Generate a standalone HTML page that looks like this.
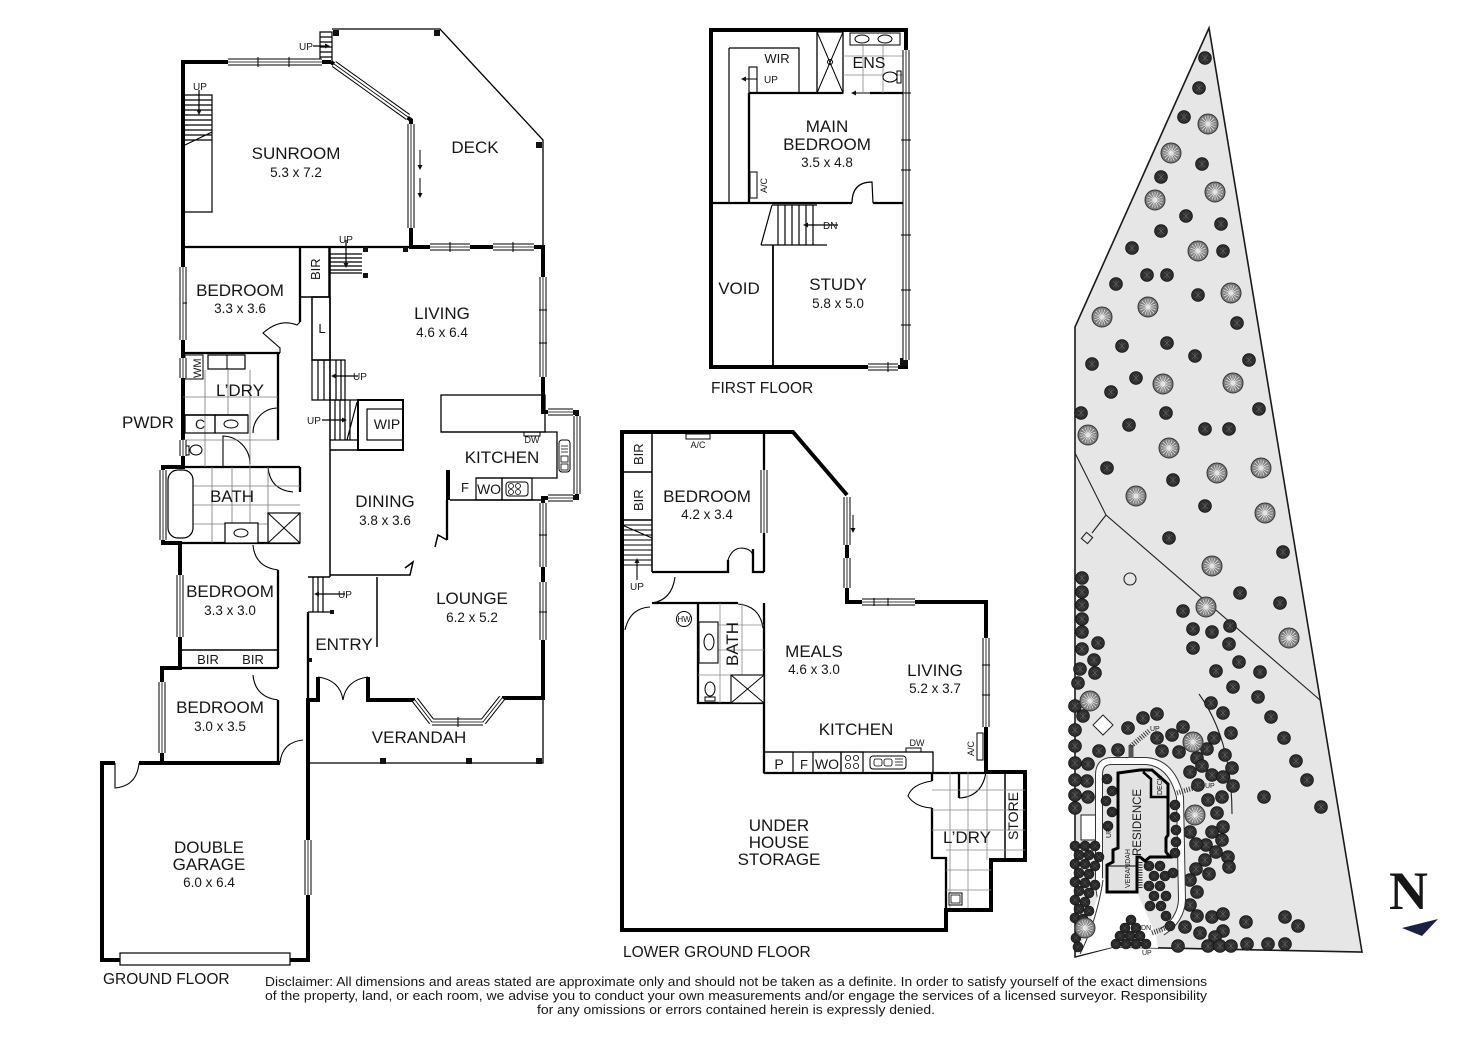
<!DOCTYPE html>
<html><head><meta charset="utf-8"><style>
html,body{margin:0;padding:0;background:#fff}
svg{display:block}
text{font-family:"Liberation Sans",Arial,sans-serif;fill:#161616}
.t{font-size:17px;text-anchor:middle}
.d{font-size:13.5px;text-anchor:middle}
.s{font-size:10px}
.m{text-anchor:middle}
</style></head><body>
<svg width="1472" height="1040" viewBox="0 0 1472 1040" xmlns="http://www.w3.org/2000/svg">
<defs>
<g id="dt"><circle r="6.4" fill="#2f2f2f" stroke="#111" stroke-width=".8"/><path d="M-3,-3L3,3M-3,3L3,-3M0,-4V4" stroke="#5e5e5e" stroke-width=".6"/></g>
<g id="ds"><circle r="5" fill="#2a2a2a" stroke="#111" stroke-width=".6"/><path d="M-2,-2L2,2M-2,2L2,-2" stroke="#555" stroke-width=".5"/></g>
<g id="bt"><circle r="10" fill="#7c7c7c" stroke="#333" stroke-width="1"/><path d="M0,-8V8M-8,0H8M-6,-6L6,6M-6,6L6,-6M-3,-7.5L3,7.5M-7.5,-3L7.5,3M3,-7.5L-3,7.5M7.5,-3L-7.5,3" stroke="#e4e4e4" stroke-width=".8"/></g>
<path id="win" d="M228,62H322 M334,64L408,117 M411,124V228 M430,247H470 M493,247H534 M543,277V377 M548,412H573 M577,416V494 M548,498H573 M543,503V567 M543,582V640 M502,698L483,722 M483,722H432 M432,722L415,700 M183,267V340 M183,358V378 M183,440V456 M163,470V540 M180,575V637 M162,682V753 M308,840V895 M906,50V360 M868,367H898 M847,497V545 M847,558V588 M862,602H915 M986,638V727 M764,470V533"/>
</defs>

<!-- ================= GROUND FLOOR ================= -->
<g fill="none" stroke="#000" stroke-linejoin="miter">
<path stroke-width="1.3" d="M332,29 L440,29 L543,140 L543,247 M308,763 L543,763 L543,698"/>
<path stroke-width="4" d="M331,62 L183,62 L183,467 L163,467 L163,543 L180,543 L180,668 L162,668 L162,763 M331,62 L411,120 L411,247 L543,247 L543,412 L577,412 L577,498 L543,498 L543,698 L502,698 M415,700 L368,700 L368,677 M318,677 L318,700 L308,700 L308,960 L102,960 L102,763 L115,763 M139,763 L280,763"/>
<path stroke-width="2.3" d="M183,247H411 M300,247V322 M183,353H280 M278,353V440 M183,467H300 M300,467V492 M163,543H300 M278,570V668 M180,668H278 M278,700V763 M308,612V700 M447,500V540"/>
<path stroke-width="1.5" d="M183,415H248 M180,650H278 M330,247V577 M330,575H410L413,562L405,568 M447,540L438,535L435,547 M377,577V647 M330,450H403 M308,577H330 M450,500H545"/>
<path stroke-width="1.1" d="M300,322 L297,325 Q280,318 263,333 L280,348 L280,353 M223,466V436 A28,28 0 0 1 250,464 M253,433 A25,25 0 0 1 277,408 M268,467 Q270,490 293,492 M253,545 Q255,567 278,570 M253,675 Q255,697 278,700 M115,763V788 Q137,786 139,763 M280,763 Q282,742 303,740 M318,677 Q340,680 343,700 M368,677 Q346,680 343,700"/>
<path stroke-width="1.2" d="M185,95H212V212H185 M185,100H212 M185,105H212 M185,110H212 M185,115H212 M185,120H212 M185,125H212 M185,130H212 M185,135H212 M185,140H212 M185,145L212,132 M199,90V112"/>
<path stroke-width="1.2" d="M320,32H332V62H320Z M320,37H332 M320,42H332 M320,47H332 M320,52H332 M320,57H332 M313,46H328"/>
<path stroke-width="1.2" d="M330,273H362 M330,254H362 M330,258H362 M330,262H362 M330,266H362 M330,270H362 M346,240V266"/>
<rect x="300" y="247" width="29" height="50" stroke-width="1.5"/>
<rect x="312" y="297" width="18" height="63" stroke-width="1.5"/>
<path stroke-width="1.2" d="M312,360H345V400H312Z M318,360V400 M324,360V400 M330,360V400 M336,360V400 M341,360V400 M358,376H333"/>
<path stroke-width="1.2" d="M330,400H358V440H330 M335,400V440 M340,400V440 M345,400V440 M350,400V440 M357,402L347,440 M322,420H345"/>
<rect x="358" y="400" width="45" height="50" stroke-width="2"/>
<rect x="367" y="409" width="36" height="31" stroke-width="1.2"/>
<rect x="208" y="355" width="37" height="14" stroke-width="1.2"/><path stroke-width="1" d="M227,355V369"/>
<rect x="185" y="355" width="18" height="24" stroke-width="1"/>
<path stroke="#777" stroke-width=".8" d="M205,370V467 M228,370V415 M250,370V467 M183,397H278 M183,440H278 M212,467V543 M232,467V543 M250,467V543 M268,467V513 M193,486H300 M193,505H300 M193,524H268"/>
<rect x="185" y="415" width="30" height="18" stroke-width="1.2"/>
<rect x="215" y="415" width="33" height="18" stroke-width="1.2"/>
<ellipse cx="231" cy="424" rx="7" ry="4" stroke-width="1"/>
<ellipse cx="196" cy="450" rx="6" ry="5" stroke-width="1"/><rect x="185" y="446" width="4" height="9" stroke-width="1"/>
<rect x="168" y="470" width="25" height="68" rx="10" fill="#fff" stroke-width="1.2"/>
<rect x="225" y="523" width="33" height="20" fill="#fff" stroke-width="1.2"/><ellipse cx="241" cy="533" rx="7" ry="4" stroke-width="1"/>
<rect x="268" y="513" width="32" height="30" fill="#fff" stroke-width="1.2"/><path stroke-width="1" d="M268,513L300,543M300,513L268,543"/>
<rect x="441" y="395" width="104" height="37" stroke-width="1.3"/>
<path stroke-width="1.3" d="M441,432H557V478H476"/>
<rect x="476" y="478" width="26" height="22" stroke-width="1.2"/>
<rect x="502" y="478" width="30" height="22" stroke-width="1.2"/>
<rect x="506" y="482" width="22" height="14" rx="3" stroke-width="1"/>
<circle cx="511" cy="486" r="2.5" stroke-width=".8"/><circle cx="518" cy="486" r="2.5" stroke-width=".8"/><circle cx="511" cy="492" r="2.5" stroke-width=".8"/><circle cx="518" cy="492" r="2.5" stroke-width=".8"/>
<rect x="524" y="432" width="16" height="4" stroke-width="1"/>
<rect x="559" y="440" width="11" height="32" rx="3" stroke-width="1"/><path stroke-width=".8" d="M561,446H568M561,449H568M561,452H568"/><rect x="561" y="456" width="7" height="6" stroke-width=".8"/><rect x="561" y="464" width="7" height="6" stroke-width=".8"/>
<path stroke-width="1.2" d="M313,577V612 M318,577V612 M323,577V612 M308,612H330 M345,594H316"/>
<rect x="120" y="953" width="170" height="12" fill="#fff" stroke-width="1.2"/>
</g>
<rect x="446" y="470" width="4" height="30" fill="#000"/>
<g fill="#111">
<rect x="333" y="30" width="6" height="6"/><rect x="434" y="30" width="6" height="6"/><rect x="536" y="142" width="6" height="6"/>
<rect x="363" y="247" width="5" height="5"/><rect x="363" y="273" width="5" height="5"/><rect x="403" y="247" width="5" height="5"/>
<rect x="380" y="758" width="6" height="6"/><rect x="466" y="758" width="6" height="6"/><rect x="536" y="758" width="6" height="6"/>
<rect x="330" y="610" width="4" height="4"/><rect x="308" y="658" width="4" height="4"/>
<rect x="573" y="410" width="5" height="5"/><rect x="573" y="495" width="5" height="5"/>
<path d="M199,115l-2.5,-5h5z M330,46l-5,-2.5v5z M346,268l-2.5,-5h5z M331,376l5,-2.5v5z M347,420l-5,-2.5v5z M314,594l5,-2.5v5z M420,170l-2.5,-5h5z M420,198l-2.5,-5h5z"/>
</g>
<path stroke="#000" stroke-width="1" d="M420,150V168 M420,178V196" fill="none"/>

<!-- ================= FIRST FLOOR ================= -->
<g fill="none" stroke="#000">
<rect x="711" y="30" width="195" height="337" stroke-width="4"/>
<path stroke-width="2.3" d="M711,203H852 M873,203H906 M749,93V203 M749,93H843 M870,93H903"/>
<path stroke-width="1.2" d="M729,48V203 M729,48H799V93 M852,203 Q852,182 872,182 L873,203"/>
<rect x="749" y="67" width="8" height="26" stroke-width="1.1"/>
<path stroke-width="1" d="M757,79H743 M870,93H852"/>
<rect x="817" y="32" width="26" height="61" stroke-width="1.3"/>
<path stroke-width="1" d="M817,32L843,93M843,32L817,93"/><circle cx="830" cy="62" r="2.5" stroke-width="1"/>
<path stroke="#888" stroke-width=".8" d="M863,45V93 M883,45V93 M843,56H903 M843,75H903"/>
<rect x="850" y="33" width="50" height="12" fill="#fff" stroke-width="1"/>
<ellipse cx="862" cy="39" rx="7" ry="4" stroke-width="1"/><ellipse cx="885" cy="39" rx="7" ry="4" stroke-width="1"/>
<ellipse cx="890" cy="77" rx="7" ry="5" fill="#fff" stroke-width="1"/><rect x="897" y="71" width="4" height="12" stroke-width="1"/>
<rect x="750" y="172" width="7" height="26" stroke-width="1"/>
<path stroke-width="1.2" d="M772,205L761,245 M761,245H827 M772,205H817 M778,205V245 M785,205V245 M792,205V245 M799,205V245 M806,205V245 M813,205V245 M838,225H805"/>
<path stroke-width="1.8" d="M773,245V367"/>
</g>
<g fill="#111"><path d="M741,79l5,-2.5v5z M851,93l5,-2.5v5z M803,225l5,-2.5v5z"/>
<rect x="903" y="205" width="6" height="12"/><rect x="903" y="255" width="6" height="8"/><rect x="900" y="358" width="8" height="8"/></g>

<!-- ================= LOWER GROUND FLOOR ================= -->
<g fill="none" stroke="#000">
<path stroke-width="4" d="M847,495 L793,432 L622,432 L622,930 L946,930 L946,910 L991,910 L991,860 L1025,860 L1025,772 L986,772 L986,727 M986,638 L986,602 L847,602 L847,588 M847,558 L847,545"/>
<path stroke-width="2.3" d="M764,432V572 M652,572H728V560 M753,549V572H764 M652,603H738 M764,603V773 M698,603V703H764 M764,773H986 M932,773V781 M932,808V858H946V910 M959,772V798"/>
<path stroke-width="1.5" d="M652,432V572 M622,472H652 M622,520H652 M1005,772V860"/>
<path stroke-width="1.1" d="M728,560 Q732,548 742,548 Q752,549 753,556 M675,577 Q672,600 652,603 M650,607 Q630,608 625,630 M738,604 Q760,606 763,628 M932,781 Q912,784 908,796 Q915,807 932,808 M959,798 Q982,797 986,772"/>
<rect x="686" y="434" width="24" height="5" stroke-width="1"/>
<path stroke-width="1.1" d="M622,525H652 M622,530H652 M622,535H652 M622,540H652 M622,545H652 M622,550H652 M622,555H652 M622,560H652 M622,565H652 M622,525L652,538 M637,580V560"/>
<path stroke="#888" stroke-width=".8" d="M720,603V703 M742,603V675 M698,625H764 M698,650H764 M698,675H731 M950,772V908 M968,772V908 M987,775V860 M932,790H1025 M932,810H1025 M932,830H1025 M946,850H1025 M946,870H991 M946,890H991"/>
<rect x="699" y="622" width="19" height="41" fill="#fff" stroke-width="1.1"/><ellipse cx="709" cy="642" rx="5" ry="8" stroke-width="1"/>
<ellipse cx="710" cy="689" rx="5" ry="7" fill="#fff" stroke-width="1"/><rect x="705" y="697" width="10" height="4" stroke-width="1"/>
<rect x="731" y="675" width="33" height="28" fill="#fff" stroke-width="1.1"/><path stroke-width="1" d="M731,675L764,703M764,675L731,703"/>
<circle cx="684" cy="619" r="7.5" stroke-width="1"/>
<rect x="764" y="752" width="169" height="21" stroke-width="1.3"/>
<rect x="764" y="752" width="29" height="21" stroke-width="1.2"/>
<rect x="813" y="752" width="28" height="21" stroke-width="1.2"/>
<rect x="841" y="752" width="22" height="21" stroke-width="1.2"/>
<circle cx="848" cy="758" r="2.6" stroke-width=".8"/><circle cx="856" cy="758" r="2.6" stroke-width=".8"/><circle cx="848" cy="766" r="2.6" stroke-width=".8"/><circle cx="856" cy="766" r="2.6" stroke-width=".8"/>
<rect x="870" y="756" width="36" height="13" rx="3" stroke-width="1"/>
<rect x="874" y="759" width="8" height="7" rx="2" stroke-width=".8"/><rect x="884" y="759" width="8" height="7" rx="2" stroke-width=".8"/><path stroke-width=".8" d="M895,759H903M895,762H903M895,765H903"/>
<rect x="906" y="748" width="15" height="4" stroke-width="1"/>
<rect x="977" y="733" width="6" height="27" stroke-width="1"/>
<rect x="949" y="893" width="13" height="12" fill="#fff" stroke-width="1"/><rect x="951" y="895" width="9" height="8" stroke-width=".8"/>
</g>
<g fill="#111"><path d="M637,558l-2.5,5h5z M853,533l-2.5,-5h5z"/></g>
<path d="M853,515V530" stroke="#000" stroke-width="1"/>

<g fill="none" stroke-linecap="butt">
<use href="#win" stroke="#000" stroke-width="7"/>
<use href="#win" stroke="#fff" stroke-width="5"/>
<use href="#win" stroke="#000" stroke-width=".8"/>
</g>
<path fill="none" stroke="#000" stroke-width="1" d="M258,57V67 M289,57V67 M450,242V252 M513,242V252 M539,310H547 M539,343H547 M539,535H547 M539,612H547 M458,717V727 M183,303H187 M901,93H911 M901,140H911 M901,170H911 M901,235H911 M901,290H911 M901,325H911 M888,362V372 M874,598V606 M888,598V606 M982,665H990 M982,695H990"/>

<!-- ================= SITE PLAN ================= -->
<polygon points="1209,28 1362,952 1113,947 1075,957 1075,327" fill="#e6e6e6" stroke="#1a1a1a" stroke-width="1.6" stroke-linejoin="miter"/>
<g fill="none" stroke="#222" stroke-width="1.1">
<path d="M1075,453 L1106,515 L1320,700 M1106,515 L1092,533"/>
<rect x="1083" y="534" width="8" height="8" transform="rotate(40 1087 538)" fill="#e6e6e6"/>
<circle cx="1130" cy="579" r="6"/>
<path d="M1199,694 Q1232,740 1232,814"/>
</g>
<polygon points="1103,715 1113,725 1103,735 1093,725" fill="#fff" stroke="#222" stroke-width="1"/>
<rect x="1081" y="815" width="21" height="25" fill="#fff" stroke="#222" stroke-width="1"/>

<g>
<use href="#dt" x="1205" y="58"/><use href="#dt" x="1199" y="88"/><use href="#dt" x="1184" y="117"/><use href="#dt" x="1202" y="164"/><use href="#dt" x="1161" y="177"/><use href="#dt" x="1186" y="216"/><use href="#dt" x="1221" y="224"/><use href="#dt" x="1161" y="231"/><use href="#dt" x="1132" y="248"/><use href="#dt" x="1223" y="251"/><use href="#dt" x="1147" y="275"/><use href="#dt" x="1167" y="275"/><use href="#dt" x="1116" y="284"/><use href="#dt" x="1198" y="295"/><use href="#dt" x="1237" y="323"/><use href="#dt" x="1122" y="346"/><use href="#dt" x="1167" y="343"/><use href="#dt" x="1195" y="356"/><use href="#dt" x="1249" y="360"/><use href="#dt" x="1092" y="364"/><use href="#dt" x="1136" y="378"/><use href="#dt" x="1111" y="392"/><use href="#dt" x="1081" y="413"/><use href="#dt" x="1166" y="413"/><use href="#dt" x="1259" y="409"/><use href="#dt" x="1129" y="425"/><use href="#dt" x="1205" y="429"/><use href="#dt" x="1229" y="429"/><use href="#dt" x="1107" y="468"/><use href="#dt" x="1173" y="480"/>
<use href="#dt" x="1205" y="506"/><use href="#dt" x="1169" y="538"/><use href="#dt" x="1283" y="552"/><use href="#dt" x="1240" y="593"/><use href="#dt" x="1280" y="603"/><use href="#dt" x="1183" y="611"/><use href="#dt" x="1193" y="629"/><use href="#dt" x="1212" y="632"/><use href="#dt" x="1230" y="626"/><use href="#dt" x="1193" y="648"/><use href="#dt" x="1229" y="644"/><use href="#dt" x="1239" y="662"/><use href="#dt" x="1216" y="671"/><use href="#dt" x="1260" y="672"/><use href="#dt" x="1233" y="687"/><use href="#dt" x="1258" y="697"/><use href="#dt" x="1211" y="703"/><use href="#dt" x="1223" y="713"/><use href="#dt" x="1271" y="717"/><use href="#dt" x="1157" y="714"/><use href="#dt" x="1143" y="718"/>
<use href="#dt" x="1082" y="578"/><use href="#dt" x="1082" y="592"/><use href="#dt" x="1082" y="605"/><use href="#dt" x="1082" y="619"/><use href="#dt" x="1082" y="632"/><use href="#dt" x="1082" y="649"/><use href="#dt" x="1098" y="643"/><use href="#dt" x="1094" y="660"/><use href="#dt" x="1095" y="673"/><use href="#dt" x="1080" y="669"/><use href="#dt" x="1078" y="683"/><use href="#dt" x="1075" y="706"/><use href="#dt" x="1083" y="716"/>
<use href="#dt" x="1231" y="733"/><use href="#dt" x="1284" y="738"/><use href="#dt" x="1225" y="755"/><use href="#dt" x="1232" y="768"/><use href="#dt" x="1296" y="761"/><use href="#dt" x="1307" y="780"/><use href="#dt" x="1233" y="786"/><use href="#dt" x="1264" y="797"/><use href="#dt" x="1321" y="807"/><use href="#dt" x="1222" y="797"/><use href="#dt" x="1217" y="813"/><use href="#dt" x="1228" y="857"/><use href="#dt" x="1229" y="867"/><use href="#dt" x="1212" y="917"/><use href="#dt" x="1223" y="914"/><use href="#dt" x="1246" y="922"/><use href="#dt" x="1285" y="917"/><use href="#dt" x="1298" y="926"/><use href="#dt" x="1223" y="931"/><use href="#dt" x="1215" y="937"/><use href="#dt" x="1247" y="944"/><use href="#dt" x="1268" y="944"/><use href="#dt" x="1285" y="944"/><use href="#dt" x="1185" y="927"/><use href="#dt" x="1178" y="946"/><use href="#dt" x="1208" y="946"/><use href="#dt" x="1220" y="946"/><use href="#dt" x="1231" y="946"/><use href="#dt" x="1200" y="933"/><use href="#dt" x="1197" y="892"/><use href="#dt" x="1190" y="880"/><use href="#dt" x="1190" y="905"/><use href="#dt" x="1197" y="916"/>
<use href="#dt" x="1128" y="728"/><use href="#dt" x="1118" y="750"/><use href="#dt" x="1099" y="751"/><use href="#dt" x="1088" y="764"/><use href="#dt" x="1087" y="781"/><use href="#dt" x="1088" y="797"/><use href="#dt" x="1183" y="727"/><use href="#dt" x="1172" y="735"/><use href="#dt" x="1157" y="738"/><use href="#dt" x="1162" y="751"/><use href="#dt" x="1179" y="752"/><use href="#dt" x="1197" y="758"/><use href="#dt" x="1207" y="749"/><use href="#dt" x="1214" y="738"/><use href="#dt" x="1202" y="766"/><use href="#dt" x="1212" y="775"/><use href="#dt" x="1190" y="772"/><use href="#dt" x="1198" y="785"/><use href="#dt" x="1223" y="777"/><use href="#dt" x="1208" y="800"/><use href="#dt" x="1223" y="827"/><use href="#dt" x="1212" y="832"/><use href="#dt" x="1222" y="840"/><use href="#dt" x="1206" y="845"/><use href="#dt" x="1196" y="844"/><use href="#dt" x="1190" y="832"/><use href="#dt" x="1216" y="852"/><use href="#dt" x="1205" y="860"/><use href="#dt" x="1196" y="869"/><use href="#dt" x="1209" y="874"/>
<use href="#dt" x="1075" y="730"/><use href="#dt" x="1075" y="746"/><use href="#dt" x="1075" y="763"/><use href="#dt" x="1075" y="780"/><use href="#dt" x="1075" y="795"/><use href="#dt" x="1075" y="808"/>
</g>
<path d="M1110,920 Q1098,900 1099,875 L1099,775 Q1099,761 1112,761 L1146,761 Q1172,763 1180,797 L1182,900 Q1181,920 1162,932" fill="none" stroke="#333" stroke-width="8"/>
<path d="M1110,920 Q1098,900 1099,875 L1099,775 Q1099,761 1112,761 L1146,761 Q1172,763 1180,797 L1182,900 Q1181,920 1162,932" fill="none" stroke="#fff" stroke-width="6"/>
<path d="M1131,758 V745" stroke="#555" stroke-width="5"/>
<path d="M1102,878 L1137,892 L1147,915 L1156,935 L1158,948 L1113,947 L1076,956 L1090,925 Z" fill="#fff"/>
<path d="M1103,880 Q1097,920 1080,954" fill="none" stroke="#333" stroke-width="1"/>
<g>
<use href="#ds" x="1075" y="846"/><use href="#ds" x="1085" y="846"/><use href="#ds" x="1095" y="846"/>
<use href="#ds" x="1079" y="855"/><use href="#ds" x="1089" y="855"/><use href="#ds" x="1099" y="857"/>
<use href="#ds" x="1075" y="864"/><use href="#ds" x="1085" y="864"/><use href="#ds" x="1095" y="866"/>
<use href="#ds" x="1079" y="873"/><use href="#ds" x="1089" y="874"/>
<use href="#ds" x="1075" y="882"/><use href="#ds" x="1085" y="883"/><use href="#ds" x="1095" y="885"/>
<use href="#ds" x="1079" y="891"/><use href="#ds" x="1089" y="893"/>
<use href="#ds" x="1075" y="900"/><use href="#ds" x="1085" y="902"/>
<use href="#ds" x="1079" y="909"/><use href="#ds" x="1089" y="911"/>
<use href="#ds" x="1075" y="918"/><use href="#ds" x="1083" y="919"/>
<use href="#ds" x="1076" y="938"/><use href="#ds" x="1078" y="947"/>
<use href="#ds" x="1131" y="920"/><use href="#ds" x="1125" y="928"/><use href="#ds" x="1136" y="928"/><use href="#ds" x="1120" y="936"/><use href="#ds" x="1130" y="936"/><use href="#ds" x="1140" y="936"/><use href="#ds" x="1116" y="944"/><use href="#ds" x="1126" y="944"/><use href="#ds" x="1136" y="944"/><use href="#ds" x="1146" y="944"/>
<use href="#ds" x="1149" y="866"/><use href="#ds" x="1160" y="866"/><use href="#ds" x="1154" y="876"/><use href="#ds" x="1165" y="876"/><use href="#ds" x="1149" y="886"/><use href="#ds" x="1160" y="886"/><use href="#ds" x="1154" y="896"/><use href="#ds" x="1166" y="896"/><use href="#ds" x="1150" y="906"/><use href="#ds" x="1161" y="906"/><use href="#ds" x="1166" y="916"/><use href="#ds" x="1170" y="926"/>
<use href="#ds" x="1175" y="805"/><use href="#ds" x="1175" y="817"/><use href="#ds" x="1176" y="830"/><use href="#ds" x="1176" y="842"/><use href="#ds" x="1175" y="853"/><use href="#ds" x="1173" y="873"/>
<use href="#ds" x="1107" y="779"/><use href="#ds" x="1112" y="791"/><use href="#ds" x="1106" y="801"/><use href="#ds" x="1112" y="812"/><use href="#ds" x="1108" y="826"/>
</g>
<path d="M1118,773 L1140,770 L1152,770 L1168,784 L1168,835 L1166,838 L1166,852 L1170,857 L1150,857 L1145,861 L1140,857 L1137,857 L1137,892 L1107,892 L1107,865 L1113,862 L1113,850 L1118,848 Z" fill="#e2e2e2" stroke="#000" stroke-width="3"/>
<path d="M1143,772 L1151,779 L1151,797 L1168,797" fill="none" stroke="#000" stroke-width="2.5"/>
<path d="M1108,866 H1137" stroke="#000" stroke-width="1"/>
<g fill="none" stroke="#333" stroke-width="5" stroke-dasharray="1 1.5"><path d="M1131,746 L1149,731"/><path d="M1177,793 L1203,785"/><path d="M1152,933 L1168,927"/><path d="M1140,862 V888"/></g>
<g font-size="7" fill="#222">
<text x="1150" y="731">UP</text><text x="1205" y="788">UP</text><text x="1141" y="930">DN</text><text x="1142" y="955">UP</text>
<text transform="translate(1111,838) rotate(-90)">UP</text>
<text transform="translate(1130,888) rotate(-90)">VERANDAH</text>
<text transform="translate(1162,795) rotate(-90)">DECK</text>
</g>
<text transform="translate(1141,856) rotate(-90)" font-size="11.5" fill="#111">RESIDENCE</text>
<g>
<use href="#bt" x="1208" y="124"/><use href="#bt" x="1171" y="153"/><use href="#bt" x="1215" y="192"/><use href="#bt" x="1155" y="200"/><use href="#bt" x="1198" y="251"/><use href="#bt" x="1231" y="293"/><use href="#bt" x="1148" y="307"/><use href="#bt" x="1102" y="317"/><use href="#bt" x="1163" y="384"/><use href="#bt" x="1233" y="383"/><use href="#bt" x="1088" y="435"/><use href="#bt" x="1169" y="448"/><use href="#bt" x="1217" y="473"/><use href="#bt" x="1261" y="468"/><use href="#bt" x="1136" y="496"/><use href="#bt" x="1265" y="513"/><use href="#bt" x="1212" y="566"/><use href="#bt" x="1206" y="607"/><use href="#bt" x="1289" y="638"/><use href="#bt" x="1090" y="701"/><use href="#bt" x="1193" y="742"/><use href="#bt" x="1195" y="815"/><use href="#bt" x="1085" y="928"/>
</g>
<text x="1389" y="909" font-size="54" font-weight="bold" fill="#1b2140" style="font-family:'Liberation Serif',serif">N</text>
<polygon points="1402,928 1438,919 1422,936" fill="#1b2140"/>

<!-- ================= LABELS ================= -->
<text class="t" x="296" y="159">SUNROOM</text><text class="d" x="296" y="177">5.3 x 7.2</text>
<text class="t" x="475" y="153">DECK</text>
<text class="t" x="240" y="296">BEDROOM</text><text class="d" x="240" y="313">3.3 x 3.6</text>
<text class="t" x="442" y="319">LIVING</text><text class="d" x="442" y="337">4.6 x 6.4</text>
<text class="t" x="240" y="396">L’DRY</text>
<text x="122" y="428" font-size="17">PWDR</text>
<text class="m" x="200" y="429" font-size="14">C</text>
<text class="m" x="387" y="429" font-size="14">WIP</text>
<text class="t" x="502" y="463">KITCHEN</text>
<text class="m" x="532" y="443" font-size="9">DW</text>
<text x="461" y="492" font-size="13">F</text>
<text class="m" x="489" y="494" font-size="14">WO</text>
<text class="t" x="232" y="502">BATH</text>
<text class="t" x="385" y="507">DINING</text><text class="d" x="385" y="525">3.8 x 3.6</text>
<text class="t" x="472" y="604">LOUNGE</text><text class="d" x="472" y="622">6.2 x 5.2</text>
<text class="t" x="230" y="597">BEDROOM</text><text class="d" x="230" y="615">3.3 x 3.0</text>
<text class="t" x="344" y="650">ENTRY</text>
<text class="m" x="208" y="664" font-size="13">BIR</text><text class="m" x="253" y="664" font-size="13">BIR</text>
<text class="t" x="220" y="713">BEDROOM</text><text class="d" x="220" y="731">3.0 x 3.5</text>
<text class="t" x="419" y="743">VERANDAH</text>
<text class="t" x="209" y="853">DOUBLE</text><text class="t" x="209" y="870">GARAGE</text><text class="d" x="209" y="887">6.0 x 6.4</text>
<text x="103" y="984" font-size="15.5">GROUND FLOOR</text>
<text class="s" x="299" y="50">UP</text>
<text class="s" x="193" y="90">UP</text>
<text class="s" x="339" y="243">UP</text>
<text class="s" x="353" y="380">UP</text>
<text class="s" x="307" y="424">UP</text>
<text class="s" x="338" y="598">UP</text>
<text transform="translate(320,280) rotate(-90)" font-size="13">BIR</text>
<text transform="translate(201,378) rotate(-90)" font-size="11">WM</text>
<text class="m" x="322" y="333" font-size="13">L</text>

<text class="m" x="777" y="63" font-size="13">WIR</text>
<text class="s" x="764" y="83">UP</text>
<text class="m" x="869" y="68" font-size="16">ENS</text>
<text class="t" x="827" y="132">MAIN</text><text class="t" x="827" y="150">BEDROOM</text><text class="d" x="827" y="167">3.5 x 4.8</text>
<text transform="translate(767,193) rotate(-90)" font-size="9">A/C</text>
<text class="s" x="823" y="229">DN</text>
<text class="t" x="739" y="294">VOID</text>
<text class="t" x="838" y="290">STUDY</text><text class="d" x="838" y="308">5.8 x 5.0</text>
<text x="711" y="393" font-size="15.5">FIRST FLOOR</text>

<text class="m" x="698" y="448" font-size="9">A/C</text>
<text transform="translate(643,465) rotate(-90)" font-size="13">BIR</text>
<text transform="translate(643,511) rotate(-90)" font-size="13">BIR</text>
<text class="t" x="707" y="502">BEDROOM</text><text class="d" x="707" y="519">4.2 x 3.4</text>
<text class="s m" x="637" y="590">UP</text>
<text class="m" x="684" y="622" font-size="8">HW</text>
<text transform="translate(738,644) rotate(-90)" class="t">BATH</text>
<text class="t" x="814" y="657">MEALS</text><text class="d" x="814" y="674">4.6 x 3.0</text>
<text class="t" x="935" y="676">LIVING</text><text class="d" x="935" y="693">5.2 x 3.7</text>
<text class="t" x="856" y="735">KITCHEN</text>
<text class="m" x="917" y="746" font-size="9">DW</text>
<text transform="translate(974,756) rotate(-90)" font-size="9">A/C</text>
<text class="m" x="779" y="769" font-size="14">P</text><text class="m" x="804" y="769" font-size="13">F</text><text class="m" x="827" y="769" font-size="14">WO</text>
<text class="t" x="779" y="831">UNDER</text><text class="t" x="779" y="848">HOUSE</text><text class="t" x="779" y="865">STORAGE</text>
<text class="t" x="967" y="843">L’DRY</text>
<text transform="translate(1018,816) rotate(-90)" class="m" font-size="14">STORE</text>
<text x="623" y="957" font-size="15.5">LOWER GROUND FLOOR</text>

<text x="265" y="986" font-size="13" textLength="942" lengthAdjust="spacingAndGlyphs">Disclaimer: All dimensions and areas stated are approximate only and should not be taken as a definite. In order to satisfy yourself of the exact dimensions</text>
<text x="265" y="1000" font-size="13" textLength="942" lengthAdjust="spacingAndGlyphs">of the property, land, or each room, we advise you to conduct your own measurements and/or engage the services of a licensed surveyor. Responsibility</text>
<text x="537" y="1014" font-size="13" textLength="398" lengthAdjust="spacingAndGlyphs">for any omissions or errors contained herein is expressly denied.</text>
</svg>
</body></html>
